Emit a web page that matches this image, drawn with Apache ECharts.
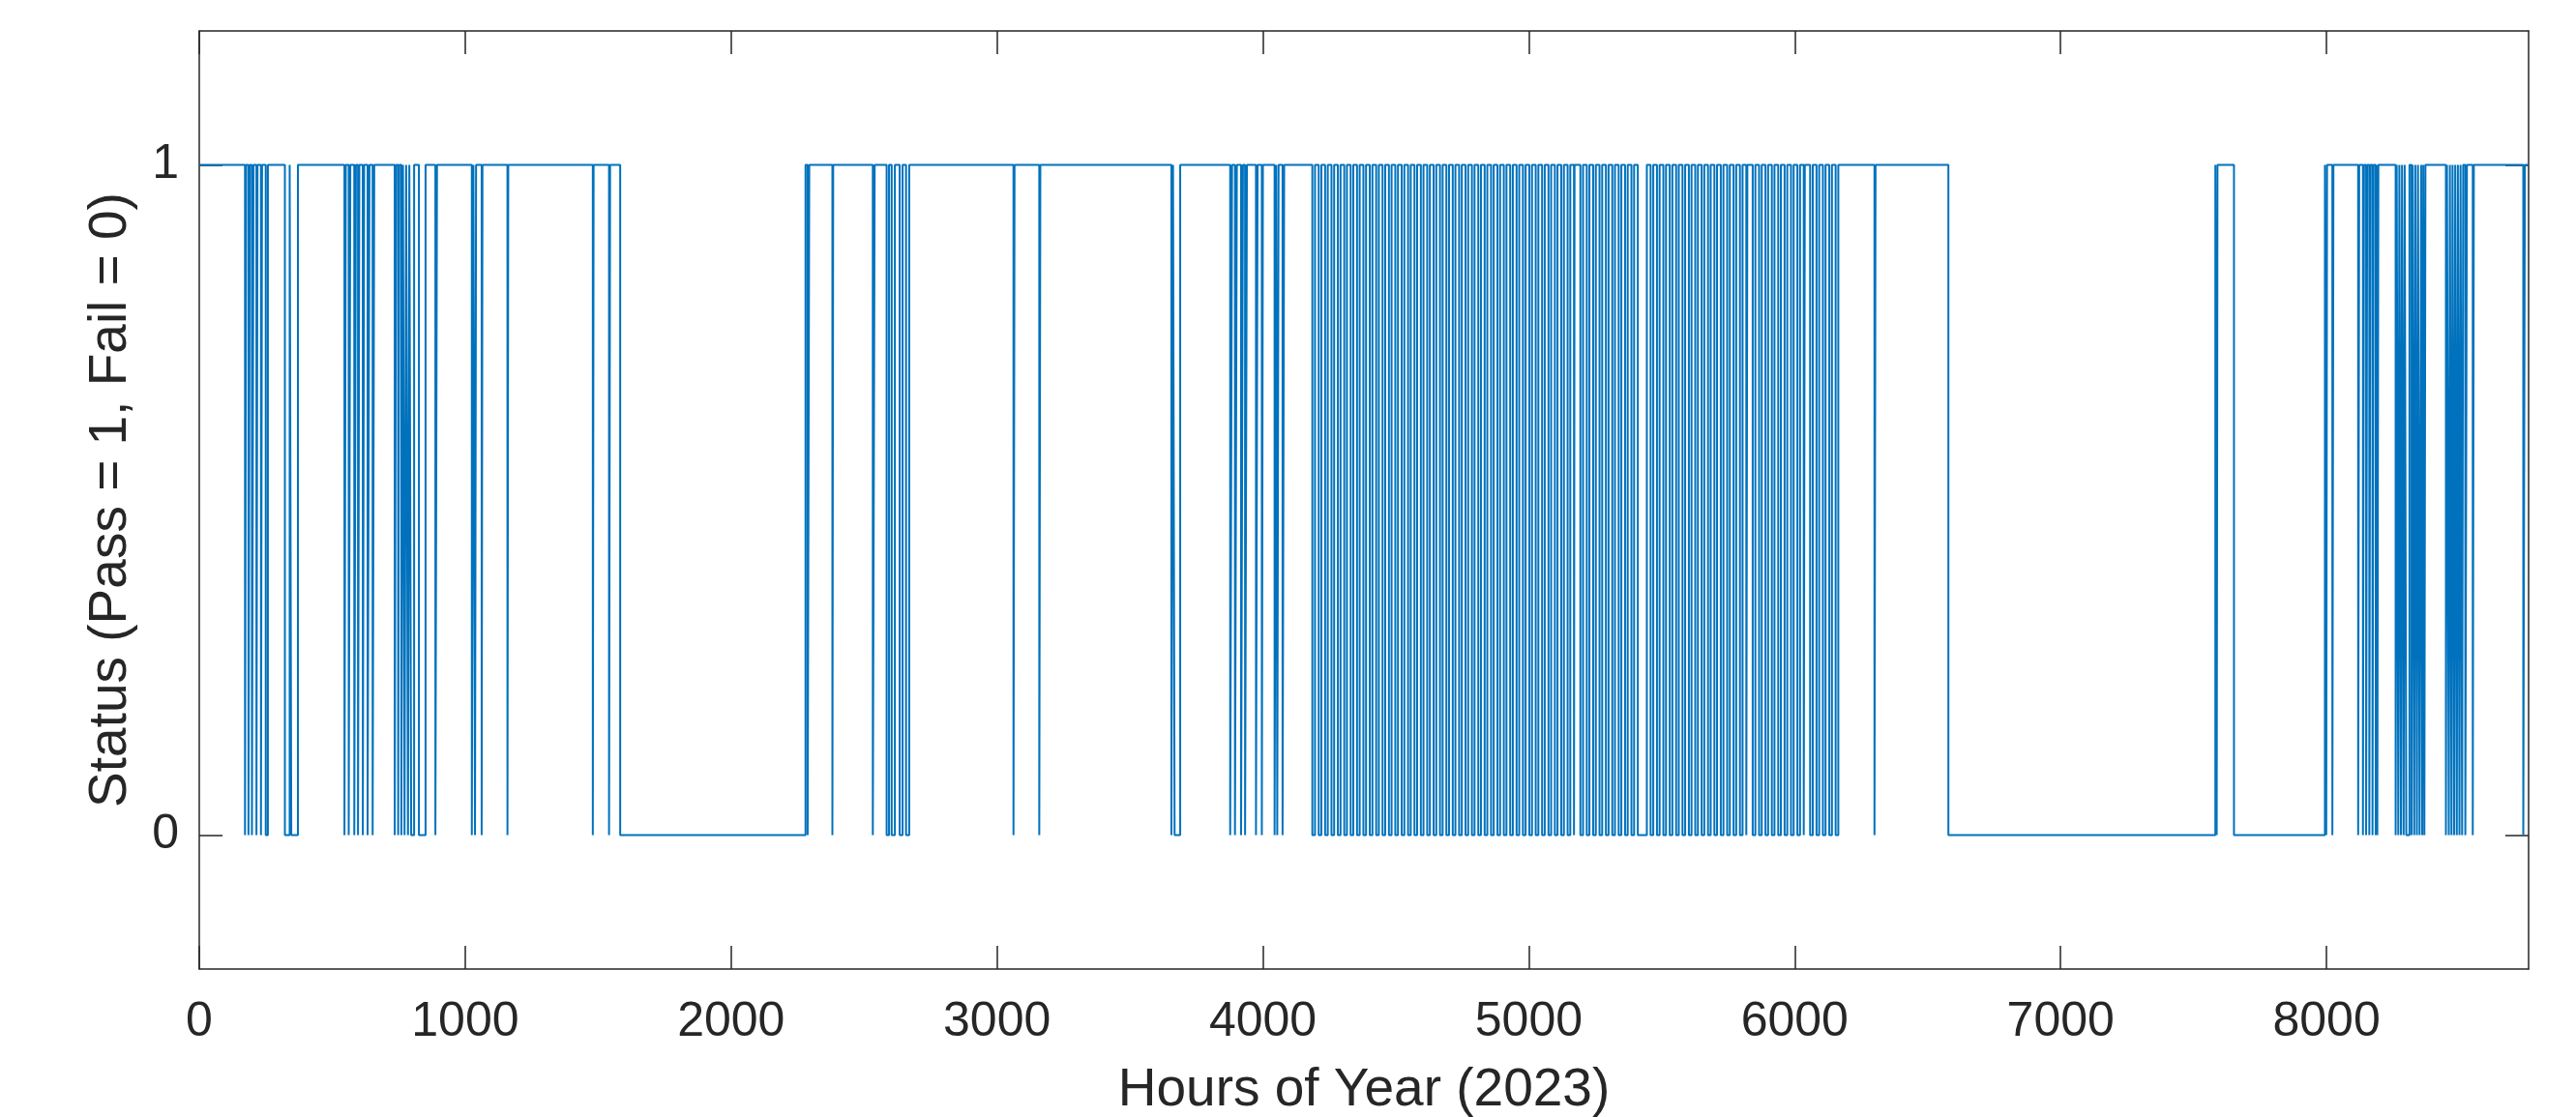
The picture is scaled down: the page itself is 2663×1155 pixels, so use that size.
<!DOCTYPE html>
<html>
<head>
<meta charset="utf-8">
<title>Status 2023</title>
<script src="https://cdn.jsdelivr.net/npm/echarts@6/dist/echarts.min.js"></script>
<style>
  html, body { margin: 0; padding: 0; background: #ffffff; }
  #chart { width: 2663px; height: 1155px; }
</style>
</head>
<body>
<div id="chart"></div>
<script>
  // axis ticks
  var xTicks = [0, 1000, 2000, 3000, 4000, 5000, 6000, 7000, 8000];
  var yTicks = [0, 1];
  var hoursInYear = 8760;

  // fail periods [start hour, end hour], status is 1 everywhere else
  var failsEarly = [
    [172, 176], [185, 190], [198, 204],
    [215, 219], [232, 236], [250, 258],
    [322, 340], [346, 371],
    [546, 551], [562, 568], [583, 589],
    [597, 602], [615, 620], [633, 640], [652, 658],
    [735, 740], [748, 752], [760, 766], [772, 778], [785, 790], [797, 808],
    [826, 851], [888, 894],
    [1025, 1031], [1037, 1041], [1062, 1065], [1159, 1162], [1480, 1483], [1541, 1545],
    [1583, 2280],
    [2288, 2294], [2381, 2384], [2533, 2540], [2585, 2594], [2604, 2616], [2634, 2645], [2658, 2670],
    [3062, 3066], [3159, 3163],
    [3656, 3662], [3668, 3689],
    [3877, 3884], [3895, 3902], [3918, 3925], [3933, 3940],
    [3974, 3980], [3996, 4000], [4044, 4050], [4054, 4059], [4074, 4080]
  ];

  var failsDaily = [
    [4186, 4196], [4210, 4220], [4234, 4244], [4258, 4268], [4282, 4292], [4306, 4316],
    [4330, 4340], [4354, 4364], [4378, 4388], [4402, 4412], [4426, 4436], [4450, 4460],
    [4474, 4484], [4498, 4508], [4522, 4532], [4546, 4556], [4570, 4580], [4594, 4604],
    [4618, 4628], [4642, 4652], [4666, 4676], [4690, 4700], [4714, 4724], [4738, 4748],
    [4762, 4772], [4786, 4796], [4810, 4820], [4834, 4844], [4858, 4868], [4882, 4892],
    [4906, 4916], [4930, 4940], [4954, 4964], [4978, 4988], [5002, 5012], [5026, 5036],
    [5050, 5060], [5074, 5084], [5098, 5108], [5122, 5132], [5146, 5156], [5170, 5172],
    [5194, 5204], [5218, 5228], [5242, 5252], [5266, 5276], [5290, 5300], [5314, 5324],
    [5338, 5348], [5362, 5372], [5386, 5396], [5410, 5444], [5458, 5468], [5482, 5492],
    [5506, 5516], [5530, 5540], [5554, 5564], [5578, 5588], [5602, 5612], [5626, 5636],
    [5650, 5660], [5674, 5684], [5698, 5708], [5722, 5732], [5746, 5756], [5770, 5780],
    [5794, 5804], [5818, 5822], [5842, 5852], [5866, 5876], [5890, 5900], [5914, 5924],
    [5938, 5948], [5962, 5972], [5986, 5996], [6010, 6020], [6034, 6038], [6058, 6068],
    [6082, 6092], [6106, 6116], [6130, 6140], [6154, 6164]
  ];

  var failsLate = [
    [6300, 6304], [6578, 7582], [7587, 7590], [7652, 7994], [7999, 8002], [8022, 8026],
    [8119, 8123], [8137, 8141], [8149, 8153], [8161, 8165], [8173, 8177], [8185, 8188], [8191, 8195],
    [8260, 8264], [8270, 8274], [8280, 8284], [8290, 8294], [8300, 8312], [8320, 8324],
    [8330, 8334], [8340, 8344], [8350, 8356], [8360, 8364], [8368, 8372],
    [8449, 8453], [8460, 8464], [8470, 8474], [8480, 8484], [8490, 8494], [8500, 8504],
    [8510, 8514], [8522, 8528], [8550, 8554],
    [8740, 8746]
  ];

  // step line: pass = 1, fail = 0
  var statusPoints = [[0, 1]];
  failsEarly.concat(failsDaily, failsLate).forEach(function (f) {
    statusPoints.push([f[0], 1], [f[0], 0], [f[1], 0], [f[1], 1]);
  });
  statusPoints.push([hoursInYear, 1]);

  var axisColor = '#262626';
  var fontName = 'Liberation Sans';

  function boxAxisLine() {
    return { show: true, onZero: false, lineStyle: { color: axisColor, width: 1.5 } };
  }

  function boxTicks(values) {
    return {
      show: true,
      inside: true,
      length: 24,
      customValues: values,
      lineStyle: { color: axisColor, width: 1.5 }
    };
  }

  var chart = echarts.init(document.getElementById('chart'));
  chart.setOption({
    animation: false,
    backgroundColor: '#ffffff',
    textStyle: { fontFamily: fontName },
    grid: {
      left: 206,
      right: 49,
      top: 32,
      bottom: 153,
      containLabel: false,
      outerBoundsMode: 'none'
    },
    xAxis: [{
      type: 'value',
      position: 'bottom',
      min: 0,
      max: hoursInYear,
      name: 'Hours of Year (2023)',
      nameLocation: 'middle',
      nameGap: 98,
      nameTextStyle: { fontSize: 55, color: axisColor, fontFamily: fontName },
      axisLine: boxAxisLine(),
      axisTick: boxTicks(xTicks),
      axisLabel: {
        customValues: xTicks,
        formatter: function (v) { return String(v); },
        margin: 30,
        fontSize: 50,
        color: axisColor,
        fontFamily: fontName
      },
      splitLine: { show: false }
    }, {
      // mirrored top edge of the box
      type: 'value',
      position: 'top',
      min: 0,
      max: hoursInYear,
      axisLine: boxAxisLine(),
      axisTick: boxTicks(xTicks),
      axisLabel: { show: false },
      splitLine: { show: false }
    }],
    yAxis: [{
      type: 'value',
      position: 'left',
      min: -0.2,
      max: 1.2,
      name: 'Status (Pass = 1, Fail = 0)',
      nameLocation: 'middle',
      nameGap: 64,
      nameTextStyle: { fontSize: 55, color: axisColor, fontFamily: fontName },
      axisLine: boxAxisLine(),
      axisTick: boxTicks(yTicks),
      axisLabel: {
        customValues: yTicks,
        formatter: function (v) { return String(v); },
        margin: 21,
        fontSize: 50,
        color: axisColor,
        fontFamily: fontName
      },
      splitLine: { show: false }
    }, {
      // mirrored right edge of the box
      type: 'value',
      position: 'right',
      min: -0.2,
      max: 1.2,
      axisLine: boxAxisLine(),
      axisTick: boxTicks(yTicks),
      axisLabel: { show: false },
      splitLine: { show: false }
    }],
    series: [{
      type: 'line',
      xAxisIndex: 0,
      yAxisIndex: 0,
      showSymbol: false,
      symbol: 'none',
      lineStyle: { color: '#0072BD', width: 2 },
      data: statusPoints
    }]
  });
</script>
</body>
</html>
